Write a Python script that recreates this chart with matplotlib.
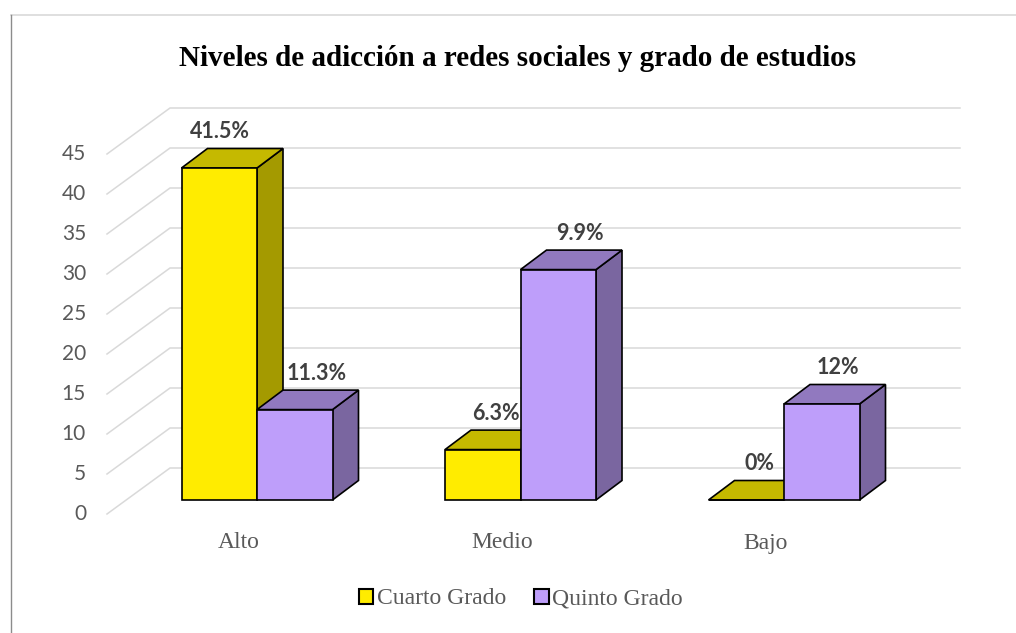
import matplotlib
matplotlib.use('Agg')
import matplotlib.pyplot as plt
from matplotlib.patches import Polygon, Patch
from matplotlib.lines import Line2D

# data
niveles = ['Alto', 'Medio', 'Bajo']
cuarto = [41.5, 6.3, 0.0]
quinto = [11.3, 28.8, 12.0]
cuarto_lbl = ['41.5%', '6.3%', '0%']
quinto_lbl = ['11.3%', '9.9%', '12%']
yticks = [0, 5, 10, 15, 20, 25, 30, 35, 40, 45]

W, H = 1016, 633
# pixel calibration of the fake 3d scene
PX_CAT, PX_UNIT = 263.5, 8.0
X0, Y0 = 257.0, 500.0

fig = plt.figure(figsize=(W / 100, H / 100), dpi=100)
ax = fig.add_axes([0, 0, 1, 1])
ax.set_xlim(-X0 / PX_CAT, (W - X0) / PX_CAT)
ax.set_ylim((Y0 - H) / PX_UNIT, Y0 / PX_UNIT)
ax.axis('off')

bw = 75.5 / PX_CAT                    # bar width
ddx, ddy = 26 / PX_CAT, 19.5 / PX_UNIT  # bar depth
wall_f = (107 - X0) / PX_CAT
wall_b = (170 - X0) / PX_CAT
wall_r = (960 - X0) / PX_CAT
fy, by = -14 / PX_UNIT, 32 / PX_UNIT

grid_c = '#d9d9d9'
for v in yticks:
    ax.plot([wall_f, wall_b, wall_r], [v + fy, v + by, v + by],
            color=grid_c, lw=1.1, zorder=1, solid_joinstyle='miter')
    ax.text(wall_f - 21 / PX_CAT, v + fy, str(v), ha='right', va='center',
            fontsize=15, color='#595959', family='Lato')

cols = {
    'c': ('#FFEC00', '#C5B900', '#A49A00'),
    'q': ('#BE9EFA', '#9179BF', '#7A66A0'),
}
# label nudges (px) as placed in the original
nudge_c = [-12, 0, 0]
nudge_q = [9, 9, 3]


def bar3d(x, h, c):
    front, top, side = c
    kw = dict(ec='black', lw=1.2, joinstyle='miter', zorder=3)
    ax.add_patch(Polygon([(x + bw, 0), (x + bw + ddx, ddy), (x + bw + ddx, h + ddy),
                          (x + bw, h)], fc=side, **kw))
    ax.add_patch(Polygon([(x, h), (x + ddx, h + ddy), (x + bw + ddx, h + ddy),
                          (x + bw, h)], fc=top, **kw))
    ax.add_patch(Polygon([(x, 0), (x + bw, 0), (x + bw, h), (x, h)], fc=front, **kw))


lbl_kw = dict(ha='center', va='center', fontsize=15.5, fontweight='bold',
              color='#404040', family='Lato', zorder=5)
for i, nv in enumerate(niveles):
    bar3d(i - bw, cuarto[i], cols['c'])
    bar3d(i, quinto[i], cols['q'])
    ax.text(i - bw / 2 + ddx / 2 + nudge_c[i] / PX_CAT, cuarto[i] + ddy + 2.1,
            cuarto_lbl[i], **lbl_kw)
    ax.text(i + bw / 2 + ddx / 2 + nudge_q[i] / PX_CAT, quinto[i] + ddy + 2.1,
            quinto_lbl[i], **lbl_kw)
    ax.text(i - 18.5 / PX_CAT, -43 / PX_UNIT, nv, ha='center', va='center',
            fontsize=17, color='#595959', family='Liberation Serif')

fig.text(518 / W, 1 - 58 / H, 'Niveles de adicción a redes sociales y grado de estudios',
         ha='center', va='center', fontsize=21, fontweight='bold',
         family='Liberation Serif', color='black')

handles = [Patch(fc=cols['c'][0], ec='black', lw=1.5, label='Cuarto Grado'),
           Patch(fc=cols['q'][0], ec='black', lw=1.5, label='Quinto Grado')]
leg = fig.legend(handles=handles, loc='center', bbox_to_anchor=(521 / W, 1 - 599 / H),
                 ncol=2, frameon=False, handlelength=0.6, handleheight=0.6,
                 handletextpad=0.15, columnspacing=1.2,
                 prop={'family': 'Liberation Serif', 'size': 17})
for t in leg.get_texts():
    t.set_color('#595959')

# chart frame
fig.add_artist(Line2D([11 / W, 1], [1 - 15 / H, 1 - 15 / H], color='#d9d9d9', lw=1.2))
fig.add_artist(Line2D([11 / W, 11 / W], [0, 1 - 15 / H], color='#8c8c8c', lw=1.0))

fig.savefig('out.png', dpi=100)
